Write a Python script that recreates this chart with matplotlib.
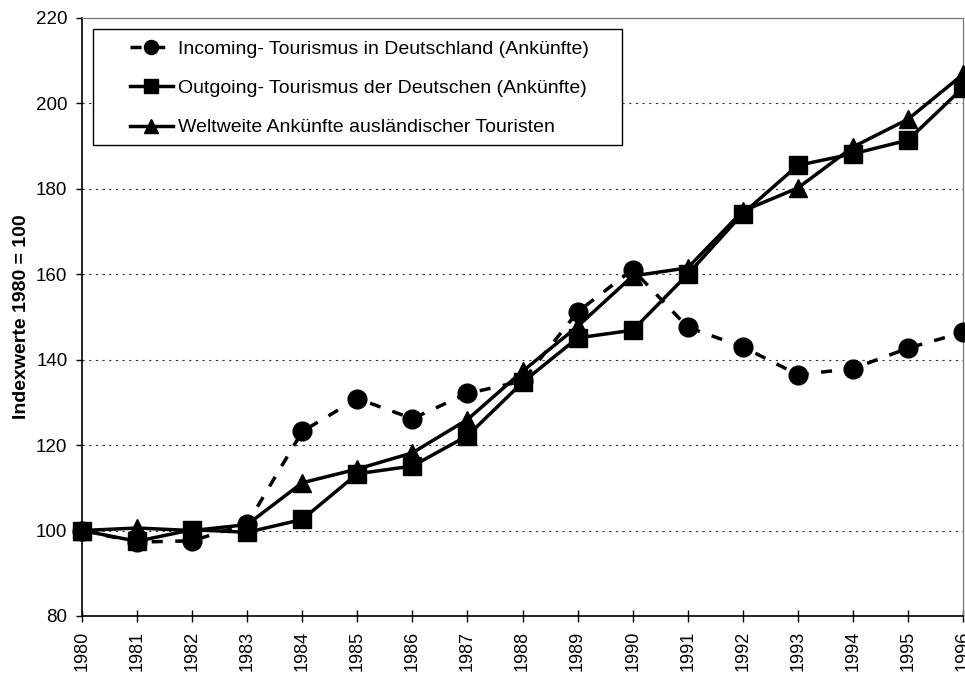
import matplotlib.pyplot as plt
from matplotlib.patches import Rectangle

plt.rcParams['font.family'] = ['Liberation Sans', 'DejaVu Sans']

# Daten (Index 1980 = 100)
jahre = list(range(1980, 1997))
incoming = [100, 97.3, 97.6, 101.6, 123.2, 130.9, 126.2, 132.1, 135.0,
            151.2, 161.1, 147.6, 143.0, 136.5, 137.9, 142.7, 146.4]
outgoing = [100, 97.5, 100.2, 99.6, 102.6, 113.3, 115.1, 122.2, 134.7,
            145.1, 146.9, 160.0, 174.2, 185.5, 188.2, 191.4, 203.7]
weltweit = [100, 100.6, 100.0, 101.4, 111.2, 114.4, 118.2, 126.0, 137.3,
            147.8, 159.6, 161.5, 174.8, 180.2, 189.8, 196.3, 206.8]

labels = ['Incoming- Tourismus in Deutschland (Ankünfte)',
          'Outgoing- Tourismus der Deutschen (Ankünfte)',
          'Weltweite Ankünfte ausländischer Touristen']

fig = plt.figure(figsize=(9.65, 6.73), dpi=100)
ax = fig.add_axes([0.085, 0.0847, 0.913, 0.8886])

# Gitterlinien
for y in range(100, 221, 20):
    ax.axhline(y, color='#333333', lw=0.8, ls=(0, (2, 4)), zorder=0)

ax.plot(jahre, incoming, color='black', lw=2.5, ls=(0, (3.2, 3.6)),
        marker='o', ms=13.5, clip_on=False, label=labels[0], zorder=3)
ax.plot(jahre, outgoing, color='black', lw=2.5, marker='s', ms=13.5,
        clip_on=False, label=labels[1], zorder=4)
ax.plot(jahre, weltweit, color='black', lw=2.5, marker='^', ms=13.5,
        clip_on=False, label=labels[2], zorder=5)

ax.set_xlim(1980, 1996)
ax.set_ylim(80, 220)
ax.set_xticks(jahre)
ax.set_xticklabels([str(j) for j in jahre], rotation=90, fontsize=13)
ax.set_yticks(range(80, 221, 20))
ax.tick_params(axis='y', labelsize=13.5, direction='out', length=4.5, width=1, pad=6)
ax.tick_params(axis='x', direction='inout', length=9, width=1, pad=6)
ax.set_ylabel('Indexwerte 1980 = 100', fontsize=14, fontweight='bold', labelpad=4)

for s in ['left', 'bottom']:
    ax.spines[s].set_color('black')
    ax.spines[s].set_linewidth(1.2)
for s in ['top', 'right']:
    ax.spines[s].set_color('#777777')
    ax.spines[s].set_linewidth(0.9)

# Legende mit eigenem Rahmen
ax.add_patch(Rectangle((0.0125, 0.7876), 0.6004, 0.194, transform=ax.transAxes,
                       facecolor='white', edgecolor='black', lw=1.0, zorder=6))
leg = ax.legend(loc='upper left', bbox_to_anchor=(0.0545, 0.963), frameon=False,
                fontsize=14, handlelength=2.2, handletextpad=0.26,
                labelspacing=1.12, borderaxespad=0, borderpad=0, markerscale=0.75)
leg.set_zorder(7)

fig.savefig('out.png', dpi=100)
